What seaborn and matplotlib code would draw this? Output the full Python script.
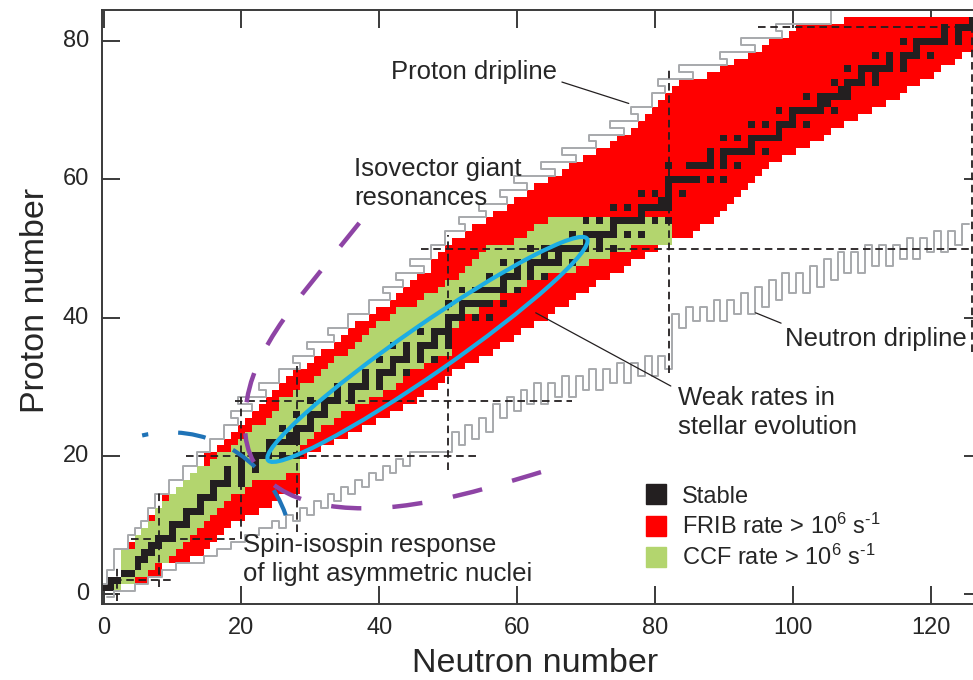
import numpy as np
import pandas as pd
import matplotlib
matplotlib.use("Agg")
import matplotlib.pyplot as plt
import matplotlib.transforms as mtransforms
import seaborn as sns
from matplotlib.colors import ListedColormap
from matplotlib.patches import Ellipse, Arc, PathPatch
from matplotlib.path import Path
from matplotlib.lines import Line2D

# --- chart values, rows are proton number Z = 1..83 ---
# FRIB rate > 1e6 /s : neutron number range per Z
frib_lo = [2, 3, 3, 3, 3, 3, 4, 5, 6, 7, 7, 8, 9, 9, 11, 12, 13, 14, 15, 15,
           17, 18, 19, 20, 21, 22, 23, 24, 25, 26, 27, 28, 30, 31, 32, 34, 35, 36, 37, 39,
           40, 42, 43, 44, 45, 46, 48, 48, 49, 50, 51, 53, 54, 56,
           57, 59, 60, 62, 63, 65, 67, 68, 70, 72, 74, 75, 77, 78, 79, 80, 81, 82, 83, 84,
           88, 90, 92, 94, 96, 97, 100, 101, 108]
frib_hi = [2, 6, 8, 8, 12, 14, 15, 16, 17, 18, 20, 22, 24, 25, 28, 28, 28, 28, 28, 29,
           31, 33, 35, 37, 39, 41, 43, 45, 46, 48, 49, 50, 52, 54, 56, 57, 59, 60, 62, 64,
           65, 67, 68, 70, 71, 73, 75, 76, 78, 80, 82, 85, 86, 88,
           89, 90, 91, 92, 93, 94, 95, 96, 98, 100, 102, 104, 105, 107, 109, 111, 113, 115, 116, 118,
           120, 121, 123, 124, 126, 126, 126, 126, 126]
# CCF rate > 1e6 /s : neutron number range per Z (Z = 1..54)
ccf_lo = [2, 3, 3, 3, 3, 3, 5, 5, 6, 7, 8, 8, 9, 10, 11, 12, 13, 14, 16, 17,
          19, 20, 21, 22, 24, 25, 26, 26, 28, 29, 31, 32, 33, 34, 36, 37, 38, 39, 40, 42,
          43, 46, 47, 49, 50, 52, 53, 54, 55, 56, 60, 62, 63, 65]
ccf_hi = [2, 4, 6, 7, 9, 10, 11, 12, 13, 14, 15, 16, 17, 18, 20, 21, 26, 28, 28, 28,
          28, 29, 30, 31, 33, 34, 36, 38, 40, 42, 43, 44, 46, 48, 50, 50, 50, 50, 51, 52,
          54, 56, 57, 59, 61, 64, 68, 70, 73, 76, 82, 82, 82, 82]
# stable isotopes: neutron numbers per Z
stable_n = [
    [0, 1], [1, 2], [3, 4], [5], [5, 6], [6, 7], [7, 8], [8, 9, 10], [10], [10, 11, 12],
    [12], [12, 13, 14], [14], [14, 15, 16], [16], [16, 17, 18, 20], [18, 20], [18, 20, 22],
    [20, 22], [20, 22, 23, 24, 26, 28], [24], [24, 25, 26, 27, 28], [27, 28], [26, 28, 29, 30],
    [30], [28, 30, 31, 32], [32], [30, 32, 33, 34, 36], [34, 36], [34, 36, 37, 38, 40],
    [38, 40], [38, 40, 41, 42, 44], [42], [40, 42, 43, 44, 46, 48], [44, 46],
    [42, 44, 46, 47, 48, 50], [48, 50], [46, 48, 49, 50], [50], [50, 51, 52, 54, 56], [52],
    [50, 52, 53, 54, 55, 56, 58], [], [52, 54, 55, 56, 57, 58, 60], [58],
    [56, 58, 59, 60, 62, 64], [60, 62], [58, 60, 62, 63, 64, 65, 66, 68], [64, 66],
    [62, 64, 65, 66, 67, 68, 69, 70, 72, 74], [70, 72], [68, 70, 71, 72, 73, 74, 76, 78], [74],
    [70, 72, 74, 75, 76, 77, 78, 80, 82], [78], [74, 76, 78, 79, 80, 81, 82], [81, 82],
    [78, 80, 82, 84], [82], [82, 83, 84, 85, 86, 88, 90], [], [82, 85, 86, 87, 88, 90, 92],
    [88, 90], [88, 90, 91, 92, 93, 94, 96], [94], [90, 92, 94, 95, 96, 97, 98], [98],
    [94, 96, 98, 99, 100, 102], [100], [98, 100, 101, 102, 103, 104, 106], [104, 105],
    [102, 104, 105, 106, 107, 108], [107, 108], [106, 108, 109, 110, 112], [110, 112],
    [108, 110, 111, 112, 113, 114, 116], [114, 116], [112, 114, 116, 117, 118, 120], [118],
    [116, 118, 119, 120, 121, 122, 124], [122, 124], [122, 124, 125, 126], [126]]
# proton dripline: lightest known N per Z (Z = 1..84)
drip_p = [0, 1, 1, 2, 2, 2, 4, 4, 5, 6, 7, 7, 8, 8, 10, 10, 12, 12, 14, 14,
          16, 16, 18, 18, 20, 19, 22, 20, 24, 23, 26, 26, 29, 28, 31, 30, 34, 33, 36, 36,
          39, 39, 42, 41, 44, 43, 47, 45, 48, 48, 50, 50, 53, 52, 56, 55, 59, 58, 62, 60,
          66, 64, 69, 67, 72, 71, 76, 74, 78, 77, 80, 80, 82, 81, 86, 84, 91, 90, 95, 93,
          99, 98, 106, 106]
# neutron dripline: lowest known Z per N (N = 1..125)
drip_n = [0, 1, 1, 1, 2, 2, 3, 3, 4, 4, 5, 5, 5, 5, 6, 6, 7, 7, 8, 8,
          9, 9, 10, 10, 11, 10, 12, 11, 13, 12, 14, 13, 15, 14, 16, 15, 17, 16, 18, 17,
          19, 18, 20, 19, 21, 21, 21, 21, 21, 21, 24, 22, 25, 23, 26, 24, 28, 26, 29, 27,
          30, 28, 31, 28, 31, 29, 32, 29, 32, 30, 33, 30, 33, 31, 34, 31, 34, 32, 35, 32,
          35, 33, 41, 39, 42, 40, 42, 40, 43, 40, 43, 41, 44, 41, 45, 42, 46, 43, 47, 44,
          47, 44, 48, 45, 49, 46, 50, 47, 50, 47, 51, 48, 51, 48, 51, 49, 52, 49, 52, 50,
          53, 50, 53, 51, 54]
# magic numbers and the extent of their dashed guide lines
magic_z = [2, 8, 20, 28, 50, 82]
magic_z_from = [1.5, 4, 12, 19, 46, 95]
magic_z_to = [10, 19, 54, 68, 128, 128]
magic_n = [2, 8, 20, 28, 50, 82, 126]
magic_n_from = [-1, 1, 8, 9, 18, 32, 35]
magic_n_to = [4, 15, 28.5, 33, 52, 76, 82]

xticks = [0, 20, 40, 60, 80, 100, 120]
yticks = [0, 20, 40, 60, 80]

RED = "#ff0000"
GREEN = "#b3d56e"
BLACK = "#231f20"
GRAY = "#a7a9ac"
TXT = "#262626"

sns.set_style("ticks")
plt.rcParams["font.family"] = ["Liberation Sans", "DejaVu Sans"]
plt.rcParams["mathtext.fontset"] = "custom"
plt.rcParams["mathtext.rm"] = "Liberation Sans"
plt.rcParams["mathtext.it"] = "Liberation Sans:italic"
plt.rcParams["mathtext.bf"] = "Liberation Sans:bold"

# build the nuclide grid: rows Z, columns N
grid = np.full((85, 128), np.nan)
for i in range(len(frib_lo)):
    z = i + 1
    grid[z, frib_lo[i]:frib_hi[i] + 1] = 1
    if i < len(ccf_lo):
        grid[z, ccf_lo[i]:ccf_hi[i] + 1] = 2
    for n in stable_n[i]:
        grid[z, n] = 3
df = pd.DataFrame(grid)

fig = plt.figure(figsize=(9.73, 6.8), dpi=100)
ax = fig.add_axes([101.5 / 973, 76 / 680, 880.5 / 973, 594.5 / 680])

sns.heatmap(df, ax=ax, cmap=ListedColormap([RED, GREEN, BLACK]), vmin=0.5, vmax=3.5,
            cbar=False, linewidths=0)
# centre each cell on integer (N, Z)
mesh = ax.collections[0]
mesh.set_transform(mtransforms.Affine2D().translate(-0.5, -0.5) + ax.transData)

# driplines
zz = np.arange(1, len(drip_p) + 1)
px = np.repeat(np.array(drip_p) - 0.5, 2)
py = np.column_stack([zz - 0.5, zz + 0.5]).ravel()
ax.plot(px, py, color=GRAY, lw=1.4, zorder=2)
nn = np.arange(1, len(drip_n) + 1)
nx = np.column_stack([nn - 0.5, nn + 0.5]).ravel()
ny = np.repeat(np.array(drip_n) - 0.5, 2)
ax.plot(nx, ny, color=GRAY, lw=1.4, zorder=2)

# magic number guide lines
for m, a, b in zip(magic_z, magic_z_from, magic_z_to):
    ax.plot([a, b], [m, m], color=BLACK, lw=1.3, dashes=(4.2, 2.6), zorder=3)
for m, a, b in zip(magic_n, magic_n_from, magic_n_to):
    ax.plot([m, m], [a, b], color=BLACK, lw=1.3, dashes=(4.2, 2.6), zorder=3)

# weak rates ellipse
ax.add_patch(Ellipse((47.0, 35.4), width=56.3, height=7.0, angle=34.7, fill=False,
                     edgecolor="#1cade4", lw=3.0, zorder=4))
# spin-isospin arc
ax.add_patch(Arc((9.6, 5.6), 35.6, 35.6, theta1=19, theta2=103, edgecolor="#1f73b7",
                 lw=3.0, linestyle=(0, (6.7, 7.2)), zorder=4))
# isovector giant resonance arc
verts = [(37.1, 53.7), (27.1, 41.2), (20.5, 34.5), (20.5, 24.5),
         (20.5, 16.0), (28.0, 12.4), (37.8, 12.4),
         (47.0, 12.4), (57.0, 15.7), (65.3, 18.2)]
codes = [Path.MOVETO] + [Path.CURVE4] * 9
ax.add_patch(PathPatch(Path(verts, codes), fill=False, edgecolor="#8e44a5", lw=3.2,
                       linestyle=(0, (6.8, 7.0)), zorder=4))

# annotations
fs = 18.5
ax.text(41.7, 75.5, "Proton dripline", fontsize=fs, color=TXT, ha="left", va="center", zorder=5)
ax.plot([66.5, 76.2], [74.1, 71.0], color=BLACK, lw=0.9, zorder=5)
ax.text(36.4, 59.4, "Isovector giant\nresonances", fontsize=fs, color=TXT, ha="left",
        va="center", linespacing=1.25, zorder=5)
ax.text(83.4, 26.3, "Weak rates in\nstellar evolution", fontsize=fs, color=TXT, ha="left",
        va="center", linespacing=1.25, zorder=5)
ax.plot([62.7, 82.3], [40.7, 30.1], color=BLACK, lw=0.9, zorder=5)
ax.text(98.9, 36.9, "Neutron dripline", fontsize=fs, color=TXT, ha="left", va="center", zorder=5)
ax.plot([94.6, 98.3], [40.7, 39.2], color=BLACK, lw=0.9, zorder=5)
ax.text(20.2, 5.0, "Spin-isospin response\nof light asymmetric nuclei", fontsize=fs, color=TXT,
        ha="left", va="center", linespacing=1.25, zorder=5)

# legend
handles = [Line2D([], [], marker="s", ls="none", ms=14.5, mfc=c, mec=c) for c in (BLACK, RED, GREEN)]
labels = ["Stable", "FRIB rate > 10$^{6}$ s$^{\u2010 1}$", "CCF rate > 10$^{6}$ s$^{\u2010 1}$"]
ax.legend(handles, labels, loc="upper left", bbox_to_anchor=(0.618, 0.199), frameon=False,
          fontsize=17, handlelength=0.85, handletextpad=0.68, labelspacing=0.26,
          borderpad=0, borderaxespad=0, labelcolor=TXT)

# axes cosmetics
for s in ax.spines.values():
    s.set_visible(True)
    s.set_linewidth(1.4)
    s.set_color("#3a3a3a")
ax.set_xlim(-0.3, 127.45)
ax.set_ylim(-1.45, 84.6)
ax.set_xticks(xticks, labels=[str(t) for t in xticks])
ax.set_yticks(yticks, labels=[str(t) for t in yticks])
plt.setp(ax.get_yticklabels(), rotation=0, va="center")
plt.setp(ax.get_xticklabels(), rotation=0)
ax.tick_params(direction="in", length=13, width=1.4, top=True, right=True, labelsize=17,
               pad=9, color="#3a3a3a", labelcolor=TXT)
ax.set_xlabel("Neutron number", fontsize=24.5, color=TXT)
ax.set_ylabel("Proton number", fontsize=24.5, color=TXT)
ax.xaxis.set_label_coords(0.4928, -0.074)
ax.yaxis.set_label_coords(-0.057, 0.511)

fig.savefig("out.png", dpi=100)
